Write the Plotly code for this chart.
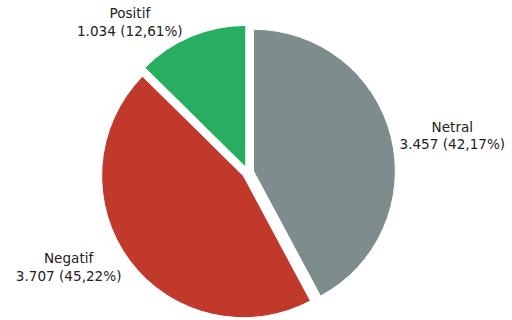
import plotly.graph_objects as go

labels = ["Netral", "Negatif", "Positif"]
values = [3457, 3707, 1034]
colors = ["#7f8c8d", "#c0392b", "#27ae60"]
pulls = [0.04, 0.04, 0.04]

fig = go.Figure(go.Pie(
    labels=labels,
    values=values,
    marker=dict(colors=colors, line=dict(color="white", width=1)),
    pull=pulls,
    sort=False,
    direction="clockwise",
    rotation=0,
    textposition="outside",
    texttemplate="%{label}<br>%{value:,} (%{percent:.2%})",
    textfont=dict(family="DejaVu Sans", size=13.6, color="#222222"),
    automargin=False,
    showlegend=False,
    domain=dict(x=[0.1963, 0.7725], y=[0.0, 0.922]),
))
fig.update_layout(
    width=512, height=320,
    margin=dict(l=0, r=0, t=0, b=0),
    paper_bgcolor="white",
    separators=",.",
)
fig.write_html("out.html")
